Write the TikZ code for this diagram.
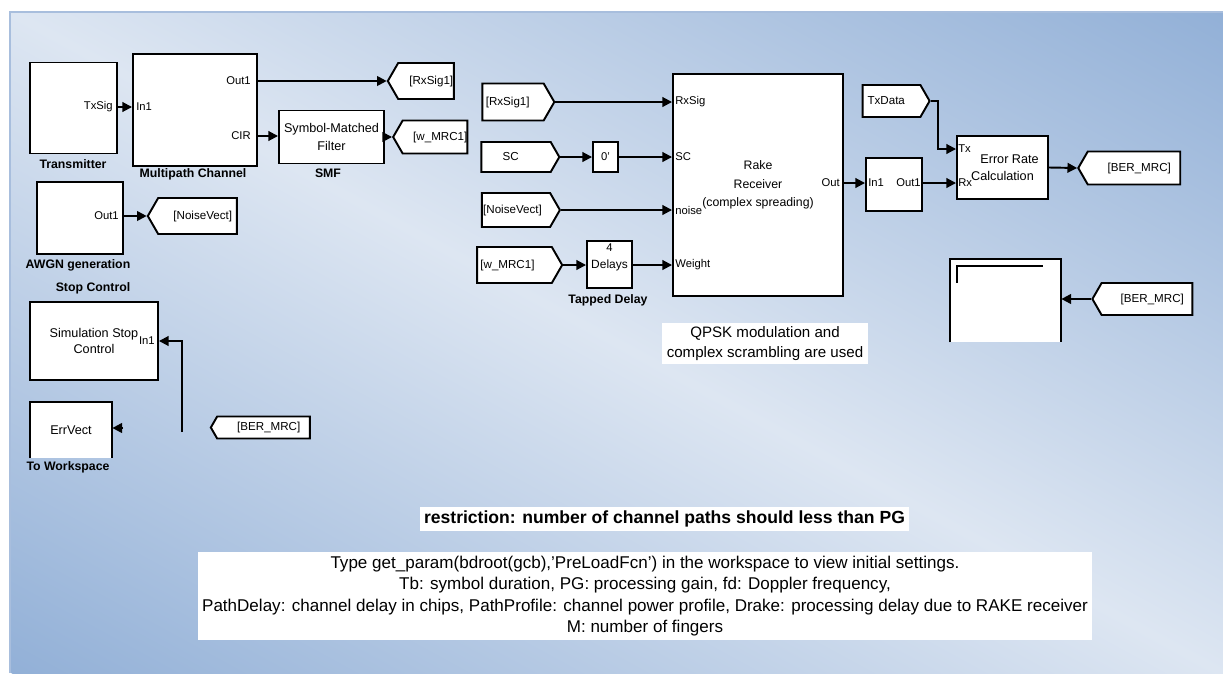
\documentclass[tikz,border=0pt]{standalone}
\usepackage{fontspec}
\setmainfont{Liberation Sans}
\usetikzlibrary{arrows.meta,shapes.symbols,calc}

\definecolor{panellight}{HTML}{DDE6F2}
\definecolor{paneldark}{HTML}{92B0D7}
\definecolor{panelrim}{HTML}{A8BEDD}

\newcommand\pxu{0.02cm}
\newcommand\sq{\symbol{39}}

\tikzset{
  box/.style 2 args={minimum width=#1*\pxu, minimum height=#2*\pxu},
  blk/.style={draw, line width=1.1pt, fill=white, inner sep=0pt, align=center,
    font=\fontsize{7.2}{9}\selectfont},
  port/.style={inner sep=0pt, font=\fontsize{6.4}{7}\selectfont},
  caption/.style={inner sep=0pt, font=\fontsize{7}{8}\bfseries\selectfont},
  tagbase/.style={signal, signal pointer angle=120, draw, line width=1.1pt,
    fill=white, inner sep=0pt, font=\fontsize{6.6}{8}\selectfont},
  gototag/.style={tagbase, signal to=west},
  fromtag/.style={tagbase, signal to=east},
  sig/.style={line width=1.1pt, -{Triangle[length=5.5pt,width=5.5pt]}},
  note/.style={fill=white, inner sep=0pt, align=center},
}

\begin{document}
\begin{tikzpicture}[x=0.02cm, y=-0.02cm]
\useasboundingbox (0,0) rectangle (1223,673);
\fill[white] (0,0) rectangle (1223,673);

% background panel: light along the main diagonal, darker towards the other corners
\begin{scope}
  \clip (10,12) rectangle (1223,673);
  \shade[transform canvas={rotate around={-28.6:(616.5,342.5)}},
         top color=paneldark, bottom color=paneldark, middle color=panellight]
    (-83.5,-237.5) rectangle (1316.5,922.5);
\end{scope}
\draw[panelrim, line width=0.8pt] (10,673) -- (10,12) -- (1223,12);

% ---------- left column ----------
\node[blk, box={87}{91}] (tx) at (73.5,108) {};
\node[port, anchor=east] (txsig) at (113,107) {TxSig};
\node[caption] (txcap) at (73,164) {Transmitter};

\node[blk, box={124}{112}] (mc) at (195,110) {};
\node[port, anchor=west] (mcin) at (136,107) {In1};
\node[port, anchor=east] (mcout) at (251,81) {Out1};
\node[port, anchor=east] (mccir) at (251,136) {CIR};
\node[caption] (mccap) at (193,174) {Multipath Channel};

\node[blk, box={86}{72}] (awgn) at (80,218) {};
\node[port, anchor=east] (awout) at (119,216) {Out1};
\node[caption] (awcap) at (78,265) {AWGN generation};

\node[caption] (stopcap) at (93,288) {Stop Control};
\node[blk, box={128}{78}] (stop) at (94,341) {Simulation Stop\\Control};
\node[port, anchor=east] (stopin) at (155,341) {In1};

\node[fill=white, inner sep=0pt, box={82}{56}, font=\fontsize{7.2}{9}\selectfont]
  (ws) at (71,430) {ErrVect};
\draw[line width=1.1pt] (ws.south west) -- (ws.north west) -- (ws.north east) -- (ws.south east);
\node[caption] (wscap) at (68,467) {To Workspace};

% ---------- matched filter and goto tags ----------
\node[blk, box={105}{53}, font=\fontsize{7.2}{9}\selectfont] (smf) at (331.5,137)
  {Symbol-Matched\\[1pt]Filter};
\node[caption] (smfcap) at (328,173) {SMF};

\node[gototag, box={66}{36}] (gRx) at (426,81) {\hspace*{6pt}[RxSig1]};
\node[gototag, box={74}{33}] (gW) at (435,137) {\hspace*{6pt}[w\_MRC1]};
\node[gototag, box={89}{36}] (gNoise) at (197.5,216) {\hspace*{6pt}[NoiseVect]};
\node[gototag, box={99}{22}] (fBERa) at (263.5,427.5) {\hspace*{6pt}[BER\_MRC]};

% ---------- receiver inputs ----------
\node[fromtag, box={72}{37}] (fRx) at (513,102) {[RxSig1]\hspace*{6pt}};
\node[fromtag, box={78}{30}] (fSC) at (516,157) {SC\hspace*{6pt}};
\node[fromtag, box={78}{34}] (fNoise) at (516,210) {[NoiseVect]\hspace*{4pt}};
\node[fromtag, box={85}{36}] (fW) at (514.5,265) {[w\_MRC1]\hspace*{8pt}};

\node[blk, box={25}{30}, font=\fontsize{6.4}{7}\selectfont] (tr) at (605.5,157) {0\sq};

\node[blk, box={45}{47}] (tap) at (609.5,264.5) {};
\node[port] (tapn) at (609.5,248) {4};
\node[port, font=\fontsize{6.8}{8}\selectfont] (tapd) at (609.5,265) {Delays};
\node[caption] (tapcap) at (608,300) {Tapped Delay};

\node[blk, box={170}{222}, font=\fontsize{7}{10.5}\selectfont] (rake) at (758,185)
  {Rake\\Receiver\\(complex spreading)};
\node[port, anchor=west] (rRx) at (675,102) {RxSig};
\node[port, anchor=west] (rSC) at (675,157) {SC};
\node[port, anchor=west] (rNoise) at (675,210) {noise};
\node[port, anchor=west] (rW) at (675,265) {Weight};
\node[port, anchor=east] (rOut) at (840,183) {Out};

\node[note, box={206}{41}, font=\fontsize{8.6}{11.3}\selectfont] (qpsk) at (765,343.5)
  {QPSK modulation and\\complex scrambling are used};

% ---------- error rate section ----------
\node[blk, box={56}{53}] (sub) at (894,184.5) {};
\node[port, anchor=west] (subin) at (868,183) {In1};
\node[port, anchor=east] (subout) at (921,183) {Out1};

\node[fromtag, box={67}{32}] (fTx) at (891.5,101) {TxData\hspace*{6pt}};

\node[blk, box={91}{63}, font=\fontsize{7.2}{9.6}\selectfont] (err) at (1002.5,167.5)
  {\hspace*{8pt}Error Rate\\Calculation};
\node[port, anchor=west] (errtx) at (958,149) {Tx};
\node[port, anchor=west] (errrx) at (958,183) {Rx};

\node[gototag, box={102}{33}] (gBER) at (1134,168) {\hspace*{6pt}[BER\_MRC]};

\node[fill=white, inner sep=0pt, box={111}{83}] (disp) at (1005.5,300.5) {};
\draw[line width=1.1pt] (disp.south west) -- (disp.north west) -- (disp.north east) -- (disp.south east);
\draw[line width=1pt] ($(disp.north west)+(7,24)$) -- ($(disp.north west)+(7,7)$) -- ($(disp.north west)+(93,7)$);

\node[gototag, box={100}{32}] (fBERb) at (1147,299) {\hspace*{6pt}[BER\_MRC]};

% ---------- notes ----------
\node[note, box={489}{24}, font=\fontsize{10}{11}\bfseries\selectfont] (restr) at (664.5,519)
  {restriction: number of channel paths should less than PG};
\node[note, box={894}{88}, font=\fontsize{9.7}{12.2}\selectfont] (info) at (645,596)
  {Type get\_param(bdroot(gcb),\sq PreLoadFcn\sq) in the workspace to view initial settings.\\
   Tb: symbol duration, PG: processing gain, fd: Doppler frequency,\\
   PathDelay: channel delay in chips, PathProfile: channel power profile, Drake: processing delay due to RAKE receiver\\
   M: number of fingers};

% ---------- signal lines ----------
\draw[sig] (tx.east |- txsig) -- (mc.west |- txsig);
\draw[sig] (mc.east |- mcout) -- (gRx.west);
\draw[sig] (mc.east |- mccir) -- (smf.west |- mccir);
\draw[sig] (smf.east |- gW.west) -- (gW.west);
\draw[sig] (awgn.east |- awout) -- (gNoise.west);

\coordinate (stopend) at (182,432);
\draw[sig] (stopend) |- (stop.east |- stopin);
\coordinate (wsin) at (123,428);
\draw[sig] (wsin) -- (ws.east |- wsin);

\draw[sig] (fRx.east) -- (rake.west |- rRx);
\draw[sig] (fSC.east) -- (tr.west);
\draw[sig] (tr.east) -- (rake.west |- rSC);
\draw[sig] (fNoise.east) -- (rake.west |- rNoise);
\draw[sig] (fW.east) -- (tap.west |- fW.east);
\draw[sig] (tap.east |- tapd) -- (rake.west |- rW);

\draw[sig] (rake.east |- rOut) -- (sub.west |- subin);
\draw[sig] (sub.east |- subout) -- (err.west |- errrx);
\coordinate (txbend) at (938,149);
\draw[sig] (fTx.east) -| (txbend) -- (err.west |- errtx);
\draw[sig] (err.east) -- (gBER.west);
\draw[sig] (fBERb.west) -- (disp.east |- fBERb.west);
\end{tikzpicture}
\end{document}
